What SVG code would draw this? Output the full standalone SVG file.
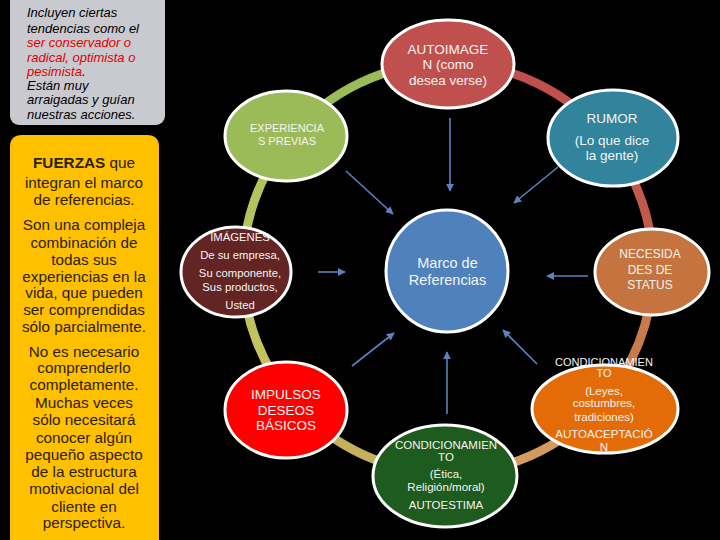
<svg xmlns="http://www.w3.org/2000/svg" width="720" height="540" viewBox="0 0 720 540">
<defs>
<style>
.bg{fill:#000}
.nd{stroke:#fff;stroke-width:3}
.nt{font-family:"Liberation Sans",Arial,sans-serif;fill:#f4f4f4;text-anchor:middle}
.ring{fill:none;stroke-width:9}
.cn{stroke:#5b82bf;stroke-width:1.6;fill:none;marker-end:url(#ah)}
.gt{font-family:"Liberation Sans",Arial,sans-serif;font-style:italic;font-size:13px;fill:#000}
.rd{fill:#e00000}
.yt{font-family:"Liberation Sans",Arial,sans-serif;font-size:15.3px;fill:#2b2100;text-anchor:middle}
</style>
<marker id="ah" viewBox="0 0 10 10" refX="9" refY="5" markerWidth="5" markerHeight="5" orient="auto" markerUnits="strokeWidth">
<path d="M0,0 L10,5 L0,10 z" fill="#5b82bf"/>
</marker>
</defs>
<rect class="bg" x="0" y="0" width="720" height="540"/>

<g id="note-grey">
<rect x="10" y="-10" width="155" height="135" rx="9" fill="#c9cacf"/>
<text class="gt" x="27" y="17">Incluyen ciertas</text>
<text class="gt" x="27" y="33">tendencias como el</text>
<text class="gt rd" x="27" y="47">ser conservador o</text>
<text class="gt rd" x="27" y="62">radical, optimista o</text>
<text class="gt" x="27" y="76"><tspan class="rd">pesimista</tspan>.</text>
<text class="gt" x="27" y="90">Están muy</text>
<text class="gt" x="27" y="104">arraigadas y guían</text>
<text class="gt" x="27" y="119">nuestras acciones.</text>
</g>

<g id="note-yellow">
<path d="M10,560 L10,147 Q10,135 22,135 L147,135 Q159,135 159,147 L159,560 z" fill="#ffc000"/>
<text class="yt" x="84" y="168"><tspan font-weight="bold">FUERZAS</tspan> que</text>
<text class="yt" x="84" y="188">integran el marco</text>
<text class="yt" x="84" y="205">de referencias.</text>
<text class="yt" x="84" y="230">Son una compleja</text>
<text class="yt" x="84" y="248">combinación de</text>
<text class="yt" x="84" y="265">todas sus</text>
<text class="yt" x="84" y="282">experiencias en la</text>
<text class="yt" x="84" y="298">vida, que pueden</text>
<text class="yt" x="84" y="315">ser comprendidas</text>
<text class="yt" x="84" y="332">sólo parcialmente.</text>
<text class="yt" x="84" y="357">No es necesario</text>
<text class="yt" x="84" y="373">comprenderlo</text>
<text class="yt" x="84" y="390">completamente.</text>
<text class="yt" x="84" y="408">Muchas veces</text>
<text class="yt" x="84" y="425">sólo necesitará</text>
<text class="yt" x="84" y="443">conocer algún</text>
<text class="yt" x="84" y="460">pequeño aspecto</text>
<text class="yt" x="84" y="477">de la estructura</text>
<text class="yt" x="84" y="494">motivacional del</text>
<text class="yt" x="84" y="512">cliente en</text>
<text class="yt" x="84" y="528">perspectiva.</text>
</g>

<g id="ring">
<path class="ring" stroke="#c0504d" d="M448,63 A205,205 0 0 1 609.5,141.7"/>
<path class="ring" stroke="#c05a4a" d="M609.5,141.7 A205,205 0 0 1 653,271.6"/>
<path class="ring" stroke="#c87a4c" d="M653,271.6 A205,205 0 0 1 600.3,405.2"/>
<path class="ring" stroke="#d39b5e" d="M600.3,405.2 A205,205 0 0 1 448,473"/>
<path class="ring" stroke="#c6b05c" d="M448,473 A205,205 0 0 1 293.3,402.5"/>
<path class="ring" stroke="#c4c25e" d="M293.3,402.5 A205,205 0 0 1 243,271.6"/>
<path class="ring" stroke="#b3c45c" d="M243,271.6 A205,205 0 0 1 288.7,139"/>
<path class="ring" stroke="#9bbb59" d="M288.7,139 A205,205 0 0 1 448,63"/>
</g>

<g id="connectors">
<path class="cn" d="M450,118 L450,191"/>
<path class="cn" d="M346,171 L393,214"/>
<path class="cn" d="M558,167 L514,203"/>
<path class="cn" d="M318,272 L345,272"/>
<path class="cn" d="M588,276 L547,276"/>
<path class="cn" d="M352,366 L394,333"/>
<path class="cn" d="M447,414 L447,352"/>
<path class="cn" d="M537,364 L503,330"/>
</g>

<g id="autoimagen">
<ellipse class="nd" cx="448" cy="64" rx="66" ry="44" fill="#c0504d"/>
<text class="nt" x="448" y="54" font-size="13.5">AUTOIMAGE</text>
<text class="nt" x="448" y="69" font-size="13.5">N (como</text>
<text class="nt" x="448" y="85" font-size="13.5">desea verse)</text>
</g>

<g id="experiencias">
<ellipse class="nd" cx="286" cy="136" rx="61" ry="45" fill="#9bbb59"/>
<text class="nt" x="287" y="132" font-size="11">EXPERIENCIA</text>
<text class="nt" x="287" y="145" font-size="11">S PREVIAS</text>
</g>

<g id="rumor">
<ellipse class="nd" cx="613" cy="138" rx="65" ry="48" fill="#31849b"/>
<text class="nt" x="612" y="123" font-size="13.5">RUMOR</text>
<text class="nt" x="612" y="145" font-size="13.5">(Lo que dice</text>
<text class="nt" x="612" y="160" font-size="13.5">la gente)</text>
</g>

<g id="imagenes">
<ellipse class="nd" cx="236" cy="272" rx="55" ry="45" fill="#632523"/>
<text class="nt" x="240" y="241" font-size="11.3">IMÁGENES</text>
<text class="nt" x="240" y="259" font-size="11.3">De su empresa,</text>
<text class="nt" x="240" y="277" font-size="11.3">Su componente,</text>
<text class="nt" x="240" y="291" font-size="11.3">Sus productos,</text>
<text class="nt" x="240" y="309" font-size="11.3">Usted</text>
</g>

<g id="marco">
<circle class="nd" cx="447" cy="271" r="61" fill="#4f81bd"/>
<text class="nt" x="447.5" y="268" font-size="14.5">Marco de</text>
<text class="nt" x="447.5" y="285" font-size="14.5">Referencias</text>
</g>

<g id="necesidades">
<ellipse class="nd" cx="652" cy="272" rx="57" ry="43" fill="#c5733f"/>
<text class="nt" x="650" y="258" font-size="12">NECESIDA</text>
<text class="nt" x="650" y="274" font-size="12">DES DE</text>
<text class="nt" x="650" y="289" font-size="12">STATUS</text>
</g>

<g id="impulsos">
<ellipse class="nd" cx="286" cy="410" rx="61" ry="48" fill="#ff0000"/>
<text class="nt" x="286" y="399" font-size="13.5">IMPULSOS</text>
<text class="nt" x="286" y="415" font-size="13.5">DESEOS</text>
<text class="nt" x="286" y="430" font-size="13.5">BÁSICOS</text>
</g>

<g id="condicionamiento-etica">
<ellipse class="nd" cx="445" cy="476" rx="72" ry="51" fill="#1e5b1e"/>
<text class="nt" x="446" y="449" font-size="11.5">CONDICIONAMIEN</text>
<text class="nt" x="446" y="461" font-size="11.5">TO</text>
<text class="nt" x="446" y="478" font-size="11.5">(Ética,</text>
<text class="nt" x="446" y="491" font-size="11.5">Religión/moral)</text>
<text class="nt" x="446" y="509" font-size="11.5">AUTOESTIMA</text>
</g>

<g id="condicionamiento-leyes">
<ellipse class="nd" cx="605" cy="409" rx="73" ry="44" fill="#e36c09"/>
<text class="nt" x="604" y="366" font-size="11">CONDICIONAMIEN</text>
<text class="nt" x="604" y="377" font-size="11">TO</text>
<text class="nt" x="604" y="395" font-size="11.5">(Leyes,</text>
<text class="nt" x="604" y="407" font-size="11.5">costumbres,</text>
<text class="nt" x="604" y="421" font-size="11.5">tradiciones)</text>
<text class="nt" x="604" y="438" font-size="11.5">AUTOACEPTACIÓ</text>
<text class="nt" x="604" y="451" font-size="11.5">N</text>
</g>
</svg>
